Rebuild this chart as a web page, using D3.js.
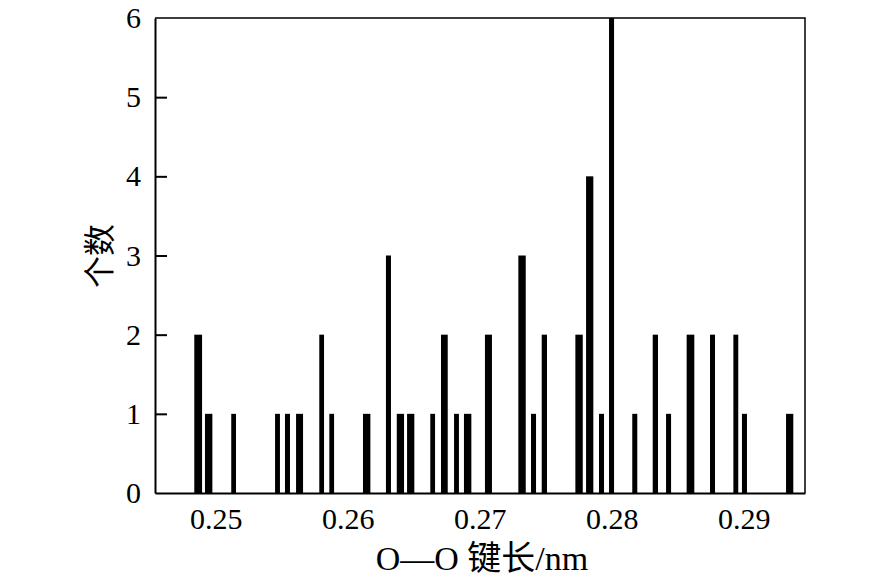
<!DOCTYPE html>
<html>
<head>
  <meta charset="utf-8">
  <script src="https://cdn.jsdelivr.net/npm/d3@7/dist/d3.min.js"></script>
</head>
<style>
  body { margin: 0; background: #fff; }
  text { font-family: "Liberation Serif", "Times New Roman", serif; fill: #000; }
  .cjk { font-family: "Liberation Serif", "Noto Sans CJK SC", serif; }
</style>
<body>
  <svg id="chart"></svg>

  <script type="text/javascript">
    // bin edges (nm) and counts
    var binLo = [0.24837, 0.24918, 0.25117, 0.25449, 0.25524, 0.25608, 0.25784, 0.25860,
                 0.26115, 0.26289, 0.26371, 0.26449, 0.26625, 0.26706, 0.26805, 0.26880,
                 0.27039, 0.27292, 0.27388, 0.27469, 0.27724, 0.27805, 0.27903, 0.27979,
                 0.28155, 0.28310, 0.28411, 0.28567, 0.28744, 0.28921, 0.28986, 0.29320];
    var binHi = [0.24896, 0.24974, 0.25153, 0.25486, 0.25562, 0.25661, 0.25820, 0.25896,
                 0.26171, 0.26327, 0.26426, 0.26504, 0.26661, 0.26757, 0.26842, 0.26936,
                 0.27092, 0.27348, 0.27426, 0.27509, 0.27780, 0.27860, 0.27941, 0.28017,
                 0.28193, 0.28350, 0.28449, 0.28625, 0.28782, 0.28958, 0.29024, 0.29375];
    var counts = [2, 1, 1, 1, 1, 1, 2, 1,
                  1, 3, 1, 1, 1, 2, 1, 1,
                  2, 3, 1, 2, 2, 4, 1, 6,
                  1, 2, 1, 2, 2, 2, 1, 1];
    var xTicks = [0.25, 0.26, 0.27, 0.28, 0.29];
    var yTicks = [0, 1, 2, 3, 4, 5, 6];

    var data = binLo.map(function(d, i) {
      return { lo: d, hi: binHi[i], n: counts[i] };
    });

    var margin = { top: 18, left: 155, bottom: 88, right: 81 };
    var width = 886 - margin.left - margin.right,
        height = 581 - margin.top - margin.bottom;

    var svg = d3.select('#chart')
      .attr('width', 886)
      .attr('height', 581)
      .append('g')
      .attr('transform', 'translate(' + margin.left + ',' + margin.top + ')');

    var x = d3.scaleLinear()
      .domain([0.245394, 0.294636])
      .range([0, width]);
    var y = d3.scaleLinear()
      .domain([0, 6])
      .range([height, 0]);

    // bars
    svg.selectAll('rect.bar')
      .data(data)
      .enter()
      .append('rect')
      .attr('class', 'bar')
      .attr('x', function(d) { return x(d.lo); })
      .attr('y', function(d) { return y(d.n); })
      .attr('width', function(d) { return x(d.hi) - x(d.lo); })
      .attr('height', function(d) { return height - y(d.n); })
      .attr('fill', '#000');

    // frame (top and right)
    svg.append('path')
      .attr('d', 'M0,0H' + width + 'V' + height)
      .attr('fill', 'none')
      .attr('stroke', '#000')
      .attr('stroke-width', 1.5);

    var xAxis = d3.axisBottom(x)
      .tickValues(xTicks)
      .tickSize(0)
      .tickPadding(15)
      .tickFormat(d3.format('.2f'));
    var gx = svg.append('g')
      .attr('transform', 'translate(0,' + height + ')')
      .call(xAxis);
    gx.select('.domain').attr('stroke-width', 2);
    gx.selectAll('text')
      .attr('font-size', 30)
      .attr('font-family', '"Liberation Serif", serif');

    var yAxis = d3.axisLeft(y)
      .tickValues(yTicks)
      .tickSizeInner(-12)
      .tickSizeOuter(0)
      .tickPadding(13)
      .tickFormat(d3.format('d'));
    var gy = svg.append('g')
      .call(yAxis);
    gy.select('.domain').attr('stroke-width', 2);
    gy.selectAll('.tick line').attr('stroke-width', 2);
    gy.selectAll('.tick')
      .filter(function(d) { return d === 0 || d === 6; })
      .select('line').remove();
    gy.selectAll('text')
      .attr('font-size', 30)
      .attr('x', -14)
      .attr('font-family', '"Liberation Serif", serif');

    // axis titles
    d3.select('#chart').append('text')
      .attr('class', 'cjk')
      .attr('x', 482)
      .attr('y', 570)
      .attr('text-anchor', 'middle')
      .attr('font-size', 34)
      .text('O—O 键长/nm');
    d3.select('#chart').append('text')
      .attr('class', 'cjk')
      .attr('transform', 'translate(111,256) rotate(-90)')
      .attr('text-anchor', 'middle')
      .attr('font-size', 32)
      .text('个数');
  </script>
</body>
</html>
